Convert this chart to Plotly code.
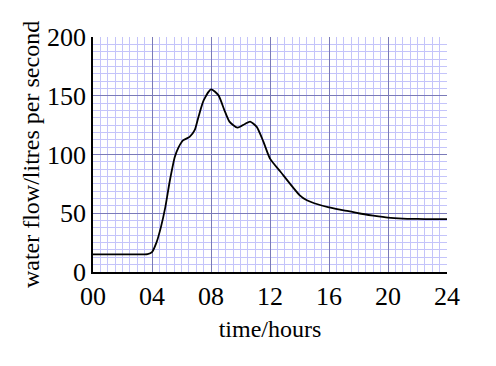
import plotly.graph_objects as go

hours = [0, 1, 2, 3, 3.7, 4.0, 4.3, 4.6, 4.9, 5.2, 5.55, 5.8, 6.1, 6.55, 6.9, 7.15, 7.5, 8.0, 8.5, 8.9, 9.25, 9.8, 10.3, 10.65, 11.1, 11.55, 12.0, 12.7, 14.0, 14.5, 15, 16, 17, 18, 19, 20, 21, 22, 23, 24]
flow = [15, 15, 15, 15, 15.3, 17, 25, 38, 55, 77, 98, 106, 112, 115, 121, 132, 146, 155.5, 150.5, 138, 128, 122.8, 126, 128, 123.5, 111, 96.5, 85.5, 65.5, 61, 58.5, 55, 52.5, 50, 48, 46.3, 45.5, 45.2, 45, 45]

x_tickvals = [0, 4, 8, 12, 16, 20, 24]
x_ticktext = ["00", "04", "08", "12", "16", "20", "24"]
y_tickvals = [0, 50, 100, 150, 200]

fig = go.Figure()
fig.add_trace(go.Scatter(x=hours, y=flow, mode="lines",
                         line=dict(color="black", width=1.8, shape="spline", smoothing=0.6),
                         showlegend=False))

font = "Liberation Serif, Times New Roman, serif"
fig.update_layout(
    width=496, height=366,
    margin=dict(l=93, r=49, t=37, b=94),
    paper_bgcolor="white", plot_bgcolor="white",
    font=dict(family=font, color="black"),
    xaxis=dict(range=[0, 24], tickvals=x_tickvals, ticktext=x_ticktext,
               showgrid=True, gridcolor="#7a7ab8", gridwidth=1,
               minor=dict(dtick=0.5, showgrid=True, gridcolor="#c4c4fa", gridwidth=1),
               showline=True, linecolor="black", linewidth=1.5,
               zeroline=False, ticks="", tickfont=dict(size=26, family=font),
               ticklabelstandoff=0,
               title=dict(text="time/hours", font=dict(size=24, family=font), standoff=10)),
    yaxis=dict(range=[0, 200], tickvals=y_tickvals,
               showgrid=True, gridcolor="#7a7ab8", gridwidth=1,
               minor=dict(dtick=6.25, showgrid=True, gridcolor="#c4c4fa", gridwidth=1),
               showline=True, linecolor="black", linewidth=1.5,
               zeroline=False, ticks="", tickfont=dict(size=26, family=font),
               title=dict(text="water flow/litres per second", font=dict(size=24, family=font), standoff=1)),
)
fig.write_html("out.html")
